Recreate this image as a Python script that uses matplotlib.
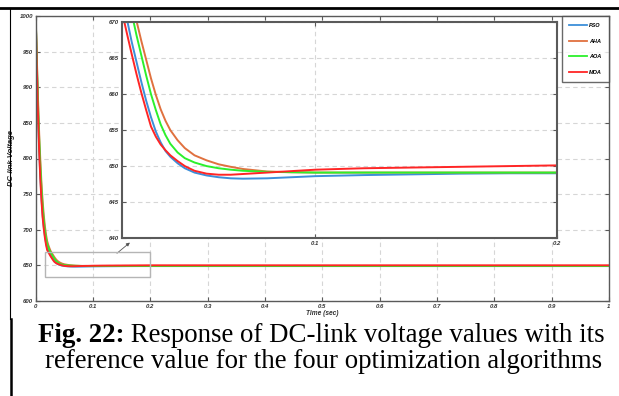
import matplotlib
matplotlib.use("Agg")
import matplotlib.pyplot as plt
from matplotlib.patches import Rectangle
from matplotlib.lines import Line2D

# ---------------------------------------------------------------------------
# Data (time in s, DC-link voltage in V)
# ---------------------------------------------------------------------------
t = [0.000, 0.002, 0.004, 0.006, 0.008, 0.010, 0.012, 0.014, 0.016, 0.018,
     0.020, 0.022, 0.024, 0.026, 0.028, 0.030, 0.032, 0.034, 0.036, 0.038,
     0.040, 0.043, 0.046, 0.050, 0.055, 0.060, 0.065, 0.070,
     0.080, 0.090, 0.100, 0.120, 0.140, 0.160, 0.180, 0.200,
     0.300, 0.500, 0.700, 1.000]

v_pso = [1000, 928, 866, 816, 776, 746, 722, 705, 692, 682,
         674.0, 670.5, 667.3, 664.5, 661.7, 659.1, 656.8, 654.8, 653.3, 652.1,
         651.3, 650.4, 649.7, 649.1, 648.7, 648.45, 648.3, 648.25,
         648.3, 648.45, 648.6, 648.75, 648.85, 648.95, 649.0, 649.0,
         649.0, 649.0, 649.0, 649.0]

v_aha = [1000, 940, 884, 836, 798, 766, 741, 721, 705, 693,
         684.0, 678.5, 674.0, 670.2, 667.4, 664.8, 662.2, 659.9, 657.9, 656.3,
         655.0, 653.6, 652.5, 651.5, 650.8, 650.25, 649.9, 649.6,
         649.25, 649.15, 649.1, 649.1, 649.1, 649.1, 649.1, 649.1,
         649.1, 649.1, 649.1, 649.1]

v_aoa = [1000, 935, 876, 828, 790, 758, 733, 714, 699, 688,
         679.5, 675.2, 671.3, 668.2, 665.4, 662.6, 660.0, 657.8, 655.8, 654.3,
         653.1, 651.9, 651.1, 650.5, 650.0, 649.7, 649.5, 649.35,
         649.2, 649.15, 649.1, 649.1, 649.1, 649.1, 649.1, 649.1,
         649.1, 649.1, 649.1, 649.1]

v_moa = [1000, 925, 862, 812, 772, 742, 718, 702, 689, 679,
         671.5, 668.5, 665.6, 662.8, 660.2, 657.8, 655.5, 654.1, 653.0, 652.2,
         651.5, 650.7, 650.0, 649.35, 648.95, 648.8, 648.8, 648.9,
         649.1, 649.3, 649.5, 649.7, 649.8, 649.9, 650.0, 650.1,
         650.1, 650.1, 650.1, 650.1]

series_names = ["PSO", "AHA", "AOA", "MOA"]
series_colors = ["#3d8fd9", "#e0713f", "#2cf02c", "#ff2525"]

main_xticks = [0, 0.1, 0.2, 0.3, 0.4, 0.5, 0.6, 0.7, 0.8, 0.9, 1]
main_xticklabels = ["0", "0.1", "0.2", "0.3", "0.4", "0.5", "0.6", "0.7",
                    "0.8", "0.9", "1"]
main_yticks = [600, 650, 700, 750, 800, 850, 900, 950, 1000]
inset_xticks = [0.1, 0.2]
inset_yticks = [640, 645, 650, 655, 660, 665, 670]

caption_bold = "Fig. 22:"
caption_rest = " Response of DC-link voltage values with its"
caption_line2 = "reference value for the four optimization algorithms"

# ---------------------------------------------------------------------------
W, H = 619, 396
fig = plt.figure(figsize=(W / 100, H / 100), dpi=100, facecolor="white")


def fx(px):
    return px / W


def fy(py):
    return 1 - py / H


SPINE = "#5a5a5a"
GRID = "#d6d6d6"
TICKFONT = dict(fontsize=4.3, fontstyle="italic", fontweight="bold",
                family="Liberation Sans")


def style_axes(ax, spine_lw):
    for s in ax.spines.values():
        s.set_color(SPINE)
        s.set_linewidth(spine_lw)
    ax.tick_params(direction="in", top=True, right=True, length=3,
                   width=0.8, color=SPINE, pad=2, labelcolor="#333333")
    ax.grid(True, ls=(0, (4, 3)), color=GRID, lw=0.8)
    for lab in ax.get_xticklabels() + ax.get_yticklabels():
        lab.set(**TICKFONT)


series = [v_pso, v_aha, v_aoa, v_moa]

# main axes ------------------------------------------------------------------
ax = fig.add_axes([fx(35.7), fy(301), fx(609 - 35.7), (301 - 16) / H])
for vals, name, col in zip(series, series_names, series_colors):
    ax.plot(t, vals, color=col, lw=1.4, label=name)
ax.set_xlim(0, 1)
ax.set_ylim(600, 1000)
ax.set_xticks(main_xticks)
ax.set_xticklabels(main_xticklabels)
ax.set_yticks(main_yticks)
style_axes(ax, 1.0)
ax.set_xlabel("Time (sec)", fontsize=4.8, fontstyle="italic",
              fontweight="bold", family="Liberation Sans", labelpad=1,
              color="#333333")
ax.set_ylabel("DC-link Voltage", fontsize=5.5, fontstyle="italic",
              fontweight="bold", family="Liberation Sans", labelpad=3,
              color="#222222")

# zoom rectangle + arrow
ax.add_patch(Rectangle((0.017, 633), 0.183, 36, fill=False,
                       edgecolor="#b5b5b5", lw=1.0, zorder=5))
ax.annotate("", xy=(0.168, 684.5), xytext=(0.138, 664.5),
            arrowprops=dict(arrowstyle="-|>", color="#555555", lw=0.6,
                            mutation_scale=5))

handles = [Line2D([], [], color=c, lw=1.3) for c in series_colors]
leg = ax.legend(handles, series_names, loc="upper right",
                bbox_to_anchor=(1.0, 1.0), borderaxespad=0.0,
                prop=dict(size=4, style="italic", weight="bold",
                          family="Liberation Sans"),
                handlelength=3.2, labelspacing=1.93, handletextpad=0.4,
                borderpad=1.25, frameon=True, fancybox=False)
leg.get_frame().set_edgecolor("#444444")
leg.get_frame().set_linewidth(1.0)

# inset axes -----------------------------------------------------------------
axi = fig.add_axes([fx(122), fy(238), fx(557 - 122), (238 - 22.3) / H])
for vals, col in zip(series, series_colors):
    axi.plot(t, vals, color=col, lw=1.4)
axi.set_xlim(0.02, 0.2)
axi.set_ylim(640, 670)
axi.set_xticks(inset_xticks)
axi.set_yticks(inset_yticks)
style_axes(axi, 1.5)

# page decoration and caption -----------------------------------------------
fig.add_artist(Line2D([0, 1], [fy(8), fy(8)], color="black", lw=2.0))
fig.add_artist(Line2D([fx(9.5), fx(9.5)], [fy(8), fy(319)], color="black",
                      lw=0.8))
fig.add_artist(Line2D([fx(10.5), fx(10.5)], [fy(319), 0], color="black",
                      lw=1.8))

CAP = 19.4
t1 = fig.text(fx(38), fy(342), caption_bold, fontsize=CAP, fontweight="bold",
              family="Liberation Serif", ha="left", va="baseline")
fig.canvas.draw()
bb = t1.get_window_extent()
fig.text(bb.x1 / fig.dpi / fig.get_figwidth(), fy(342), caption_rest,
         fontsize=CAP, family="Liberation Serif", ha="left", va="baseline")
fig.text(fx(324), fy(368), caption_line2, fontsize=CAP,
         family="Liberation Serif", ha="center", va="baseline")

fig.savefig("out.png", dpi=100, facecolor="white")
